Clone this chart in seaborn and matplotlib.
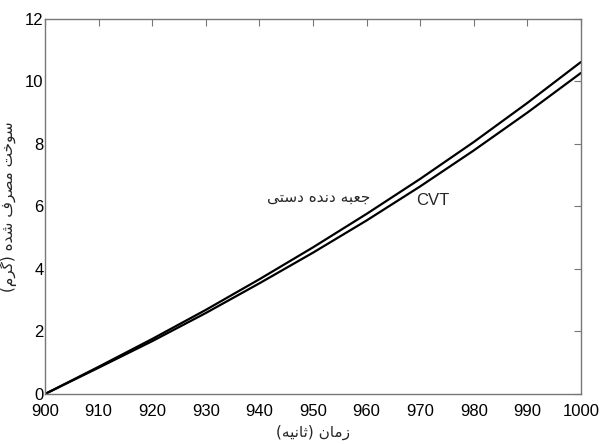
import matplotlib
matplotlib.use("Agg")
import matplotlib.pyplot as plt
import seaborn as sns
import pandas as pd

# Data (time in s, fuel in g)
time_s = [900, 910, 920, 930, 940, 950, 960, 970, 980, 990, 1000]
fuel_manual = [0, 0.87, 1.76, 2.69, 3.67, 4.69, 5.76, 6.88, 8.06, 9.31, 10.62]
fuel_cvt = [0, 0.84, 1.69, 2.59, 3.54, 4.52, 5.55, 6.64, 7.79, 9.00, 10.27]

label_manual = "جعبه دنده دستی"
label_cvt = "CVT"
x_label = "زمان (ثانیه)"
y_label = "سوخت مصرف شده (گرم)"

x_ticks = [900, 910, 920, 930, 940, 950, 960, 970, 980, 990, 1000]
y_ticks = [0, 2, 4, 6, 8, 10, 12]

# matplotlib has no Arabic shaping, so pick presentation forms by hand
# (isolated, final, initial, medial); right-joining letters have only two
FORMS = {
    'ا': ('\uFE8D', '\uFE8E'),
    'ب': ('\uFE8F', '\uFE90', '\uFE91', '\uFE92'),
    'ت': ('\uFE95', '\uFE96', '\uFE97', '\uFE98'),
    'ث': ('\uFE99', '\uFE9A', '\uFE9B', '\uFE9C'),
    'ج': ('\uFE9D', '\uFE9E', '\uFE9F', '\uFEA0'),
    'خ': ('\uFEA5', '\uFEA6', '\uFEA7', '\uFEA8'),
    'د': ('\uFEA9', '\uFEAA'),
    'ر': ('\uFEAD', '\uFEAE'),
    'ز': ('\uFEAF', '\uFEB0'),
    'س': ('\uFEB1', '\uFEB2', '\uFEB3', '\uFEB4'),
    'ش': ('\uFEB5', '\uFEB6', '\uFEB7', '\uFEB8'),
    'ص': ('\uFEB9', '\uFEBA', '\uFEBB', '\uFEBC'),
    'ع': ('\uFEC9', '\uFECA', '\uFECB', '\uFECC'),
    'ف': ('\uFED1', '\uFED2', '\uFED3', '\uFED4'),
    'م': ('\uFEE1', '\uFEE2', '\uFEE3', '\uFEE4'),
    'ن': ('\uFEE5', '\uFEE6', '\uFEE7', '\uFEE8'),
    'ه': ('\uFEE9', '\uFEEA', '\uFEEB', '\uFEEC'),
    'و': ('\uFEED', '\uFEEE'),
    'ی': ('\uFBFC', '\uFBFD', '\uFBFE', '\uFBFF'),
    'گ': ('\uFB92', '\uFB93', '\uFB94', '\uFB95'),
}


def fa(text):
    out = []
    for i, ch in enumerate(text):
        if ch not in FORMS:
            out.append(ch)
            continue
        prev = text[i - 1] if i > 0 else ''
        nxt = text[i + 1] if i + 1 < len(text) else ''
        join_prev = prev in FORMS and len(FORMS[prev]) == 4
        join_next = len(FORMS[ch]) == 4 and nxt in FORMS
        if join_prev and join_next:
            out.append(FORMS[ch][3])
        elif join_prev:
            out.append(FORMS[ch][1])
        elif join_next:
            out.append(FORMS[ch][2])
        else:
            out.append(FORMS[ch][0])
    vis = ''.join(reversed(out))
    return vis.translate(str.maketrans('()', ')('))


df = pd.DataFrame({"time": time_s + time_s,
                   "fuel": fuel_manual + fuel_cvt,
                   "gearbox": ["manual"] * len(time_s) + ["cvt"] * len(time_s)})

sns.set_style("white")
plt.rcParams['font.family'] = ['Liberation Sans', 'DejaVu Sans']

fig = plt.figure(figsize=(6.07, 4.44), dpi=100)
ax = fig.add_axes([0.0741, 0.1126, 0.883, 0.845])

sns.lineplot(data=df, x="time", y="fuel", hue="gearbox",
             palette={"manual": "black", "cvt": "black"},
             linewidth=1.6, legend=False, ax=ax)

ax.set_xlim(900, 1000)
ax.set_ylim(0, 12)
ax.set_xticks(x_ticks)
ax.set_yticks(y_ticks)
ax.tick_params(direction="in", length=5, width=0.8, color="#777777",
               top=True, right=True, labelsize=12, labelcolor="black")
ax.tick_params(axis="x", pad=7)
ax.tick_params(axis="y", pad=1)
for s in ax.spines.values():
    s.set_color("#777777")
    s.set_linewidth(1.0)

ax.text(951, 6.3, fa(label_manual), ha="center", va="center",
        fontsize=11, family="DejaVu Sans")
ax.text(972.4, 6.2, label_cvt, ha="center", va="center", fontsize=12)

ax.set_xlabel(fa(x_label), fontsize=11, family="DejaVu Sans", labelpad=4)
ax.set_ylabel(fa(y_label), fontsize=11, family="DejaVu Sans", labelpad=6)

fig.savefig("out.png", dpi=100)
